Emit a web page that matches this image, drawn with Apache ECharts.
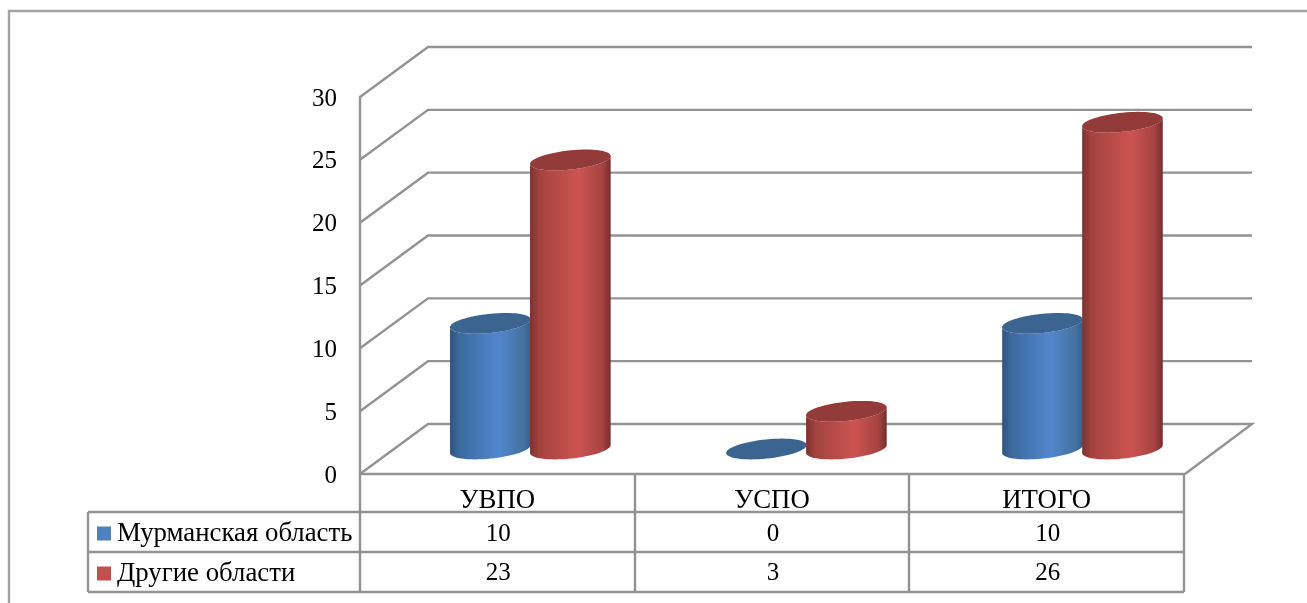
<!DOCTYPE html>
<html>
<head>
<meta charset="utf-8">
<style>html,body{margin:0;padding:0;background:#fff}#c{width:1307px;height:603px}</style>
<script src="https://cdn.jsdelivr.net/npm/echarts@6/dist/echarts.min.js"></script>
</head>
<body>
<div id="c"></div>
<script>
const categories = ['УВПО', 'УСПО', 'ИТОГО'];
const seriesNames = ['Мурманская область', 'Другие области'];
const murmansk = [10, 0, 10];
const others = [23, 3, 26];
const yTicks = [0, 5, 10, 15, 20, 25, 30];

const FONT = '"Liberation Serif","Times New Roman",serif';
const GRID = {left: 360, top: 97, width: 824, height: 377};
const LINE = '#939393';
const LW = 2.4;
const DEPTH = {x: 68, y: -50};
const R = 40.3;

const chart = echarts.init(document.getElementById('c'));

function ellipsePts(cx, cy, from, to, n) {
  const pts = [];
  for (let i = 0; i <= n; i++) {
    const t = from + (to - from) * i / n;
    pts.push([cx + R * Math.cos(t), cy - 4 * Math.cos(t) + 9.6 * Math.sin(t)]);
  }
  return pts;
}

function cylinderRenderer(shift, stops, topColor, rowY) {
  return function (params, api) {
    const i = api.value(0), v = api.value(1);
    const base = api.coord([i, 0]);
    const top = api.coord([i, v]);
    const cx = base[0] + DEPTH.x / 2 + shift + i * 1.4;
    const by = base[1] + DEPTH.y / 2;
    const ty = top[1] + DEPTH.y / 2;
    const children = [];
    if (v > 0) {
      const pts = ellipsePts(cx, by, 0, Math.PI, 32)
        .concat(ellipsePts(cx, ty, Math.PI, 0, 32));
      children.push({
        type: 'polygon',
        shape: {points: pts},
        style: {fill: new echarts.graphic.LinearGradient(0, 0, 1, 0, stops)}
      });
    }
    children.push({
      type: 'polygon',
      shape: {points: ellipsePts(cx, ty, 0, Math.PI * 2, 64)},
      style: {fill: topColor}
    });
    children.push({
      type: 'text',
      style: {text: String(v), x: base[0] + 1, y: rowY, fill: '#000', font: '25px ' + FONT, align: 'center', verticalAlign: 'middle'}
    });
    return {type: 'group', children};
  };
}

function wallRenderer(params, api) {
  const cs = params.coordSys;
  const v = api.value(0);
  const p = api.coord([0, v]);
  const x0 = cs.x, x1 = cs.x + cs.width, y = p[1];
  const pts = [[x0, y], [x0 + DEPTH.x, y + DEPTH.y], [x1 + DEPTH.x, y + DEPTH.y]];
  if (v === 0) pts.push([x1 + 1, y]);
  return {
    type: 'polyline',
    shape: {points: pts},
    style: {stroke: LINE, lineWidth: LW, fill: null}
  };
}

const blueStops = [
  {offset: 0, color: '#2f5480'}, {offset: 0.12, color: '#3c6a9f'},
  {offset: 0.6, color: '#5187ce'}, {offset: 0.9, color: '#44729f'}, {offset: 1, color: '#355f8e'}
];
const redStops = [
  {offset: 0, color: '#7c3230'}, {offset: 0.12, color: '#a4433f'},
  {offset: 0.6, color: '#cc5450'}, {offset: 0.9, color: '#a54341'}, {offset: 1, color: '#732e2c'}
];

function tableLines() {
  const h = [
    [88, 512, 1184, 512], [88, 552, 1184, 552], [88, 592, 1184, 592]
  ];
  const v = [
    [88, 512, 88, 592], [360, 474, 360, 592], [635, 474, 635, 592],
    [909, 474, 909, 592], [1184, 474, 1184, 592]
  ];
  return h.concat(v).map(l => ({
    type: 'line', silent: true, z: 0,
    shape: {x1: l[0], y1: l[1], x2: l[2], y2: l[3]},
    style: {stroke: LINE, lineWidth: LW}
  }));
}

chart.setOption({
  animation: false,
  backgroundColor: '#fff',
  textStyle: {fontFamily: FONT},
  grid: GRID,
  legend: {
    data: seriesNames,
    orient: 'vertical',
    left: 97,
    top: 520,
    itemWidth: 14,
    itemHeight: 14,
    itemGap: 13,
    icon: 'rect',
    selectedMode: false,
    textStyle: {fontFamily: FONT, fontSize: 26.8, color: '#000', padding: [3, 0, 0, 1]},
    padding: 0
  },
  xAxis: {
    type: 'category',
    data: categories,
    axisLine: {show: true, lineStyle: {color: LINE, width: LW}},
    axisTick: {show: false},
    axisLabel: {color: '#000', fontFamily: FONT, fontSize: 26.8, margin: 13},
    splitLine: {show: false}
  },
  yAxis: {
    type: 'value',
    min: 0, max: 30, interval: 5,
    axisLine: {show: true, lineStyle: {color: LINE, width: LW}},
    axisTick: {show: false},
    axisLabel: {
      margin: 23,
      formatter: '{t|{value}}',
      rich: {t: {color: '#000', fontFamily: FONT, fontSize: 25, padding: [4, 0, 0, 0]}}
    },
    splitLine: {show: false}
  },
  graphic: [
    {
      type: 'polyline', silent: true, z: 0,
      shape: {points: [[9, 603], [9, 11], [1307, 11]]},
      style: {stroke: '#a3a3a3', lineWidth: LW, fill: null}
    }
  ].concat(tableLines()),
  series: [
    {
      type: 'custom', name: 'walls', silent: true, clip: false, z: 1,
      data: yTicks.map(v => [v]),
      encode: {y: 0},
      renderItem: wallRenderer
    },
    {
      type: 'custom', name: seriesNames[0], silent: true, clip: false, z: 2,
      itemStyle: {color: '#4f81bd'},
      data: murmansk.map((v, i) => [i, v]),
      encode: {x: 0, y: 1},
      renderItem: cylinderRenderer(-41, blueStops, '#3c6491', 534)
    },
    {
      type: 'custom', name: seriesNames[1], silent: true, clip: false, z: 3,
      itemStyle: {color: '#c0504d'},
      data: others.map((v, i) => [i, v]),
      encode: {x: 0, y: 1},
      renderItem: cylinderRenderer(39, redStops, '#933b39', 573)
    }
  ]
});
</script>
</body>
</html>
